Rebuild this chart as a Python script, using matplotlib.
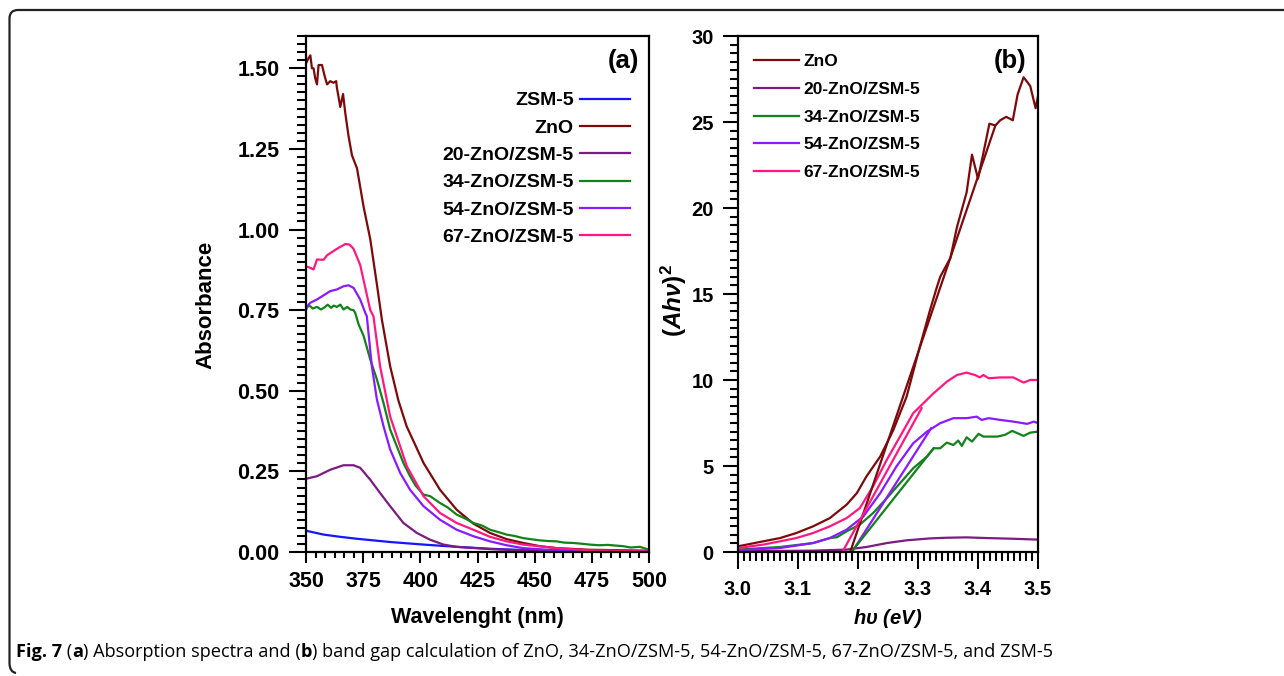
import numpy as np
import matplotlib
matplotlib.use("Agg")
import matplotlib.pyplot as plt
from matplotlib.ticker import MultipleLocator, AutoMinorLocator, FormatStrFormatter
from matplotlib.path import Path
from matplotlib.patches import PathPatch

plt.rcParams['font.family'] = ['Liberation Sans', 'DejaVu Sans']
plt.rcParams['font.weight'] = 'bold'
plt.rcParams['mathtext.fontset'] = 'custom'
plt.rcParams['mathtext.it'] = 'Liberation Sans:italic:bold'
plt.rcParams['mathtext.rm'] = 'Liberation Sans:bold'

# colours per sample
c_zsm = '#1515ff'
c_zno = '#7d0a0a'
c_20 = '#7d1a84'
c_34 = '#12821a'
c_54 = '#8a1aff'
c_67 = '#ff1880'

# ---- panel (a): absorbance vs wavelength ----
wl_zsm = [350, 357.7, 365, 372.3, 386.8, 401.4, 415.9, 430.5, 445, 474.1, 500]
ab_zsm = [0.066, 0.054, 0.047, 0.041, 0.031, 0.023, 0.016, 0.010, 0.006, 0.003, 0.002]

wl_zno = [350, 351.0, 351.9, 352.6, 353.3, 354.0, 354.8, 355.5, 357.0, 358.0, 359.2, 360.6,
          362.0, 363.2, 363.5, 365.0, 366.2, 367.2, 368.6, 370.1, 372.3, 375.2, 378.1,
          381.0, 383.2, 386.8, 390.4, 394.0, 401.4, 408.6, 415.9, 423.2, 430.5, 437.7,
          445.0, 452.3, 459.6, 474.0, 500]
ab_zno = [1.515, 1.53, 1.54, 1.50, 1.50, 1.47, 1.45, 1.51, 1.51, 1.48, 1.45, 1.46,
          1.455, 1.46, 1.44, 1.38, 1.42, 1.36, 1.29, 1.23, 1.19, 1.07, 0.97,
          0.83, 0.72, 0.576, 0.47, 0.39, 0.276, 0.193, 0.131, 0.088, 0.059, 0.040,
          0.028, 0.018, 0.012, 0.007, 0.004]

wl_20 = [350, 354.8, 360.6, 366.4, 370.8, 373.7, 378.1, 382.4, 386.8, 392.6, 398.5,
         404.3, 410.1, 415.9, 430.5, 445.0, 500]
ab_20 = [0.227, 0.235, 0.255, 0.269, 0.269, 0.261, 0.224, 0.183, 0.142, 0.09, 0.059,
         0.038, 0.023, 0.016, 0.009, 0.005, 0.002]

wl_34 = [350, 351.5, 353.0, 354.8, 356.5, 358.0, 359.5, 361.0, 362.1, 363.5, 365.0,
         366.4, 368.0, 369.4, 370.8, 371.5, 373.0, 375.2, 378.1, 381.0, 383.9, 386.8,
         389.7, 392.6, 395.5, 398.0, 401.4, 404.3, 408.6, 412.0, 415.9, 419.0, 423.2,
         427.0, 430.5, 434.0, 437.7, 441.0, 445.0, 448.0, 452.3, 456.0, 459.6, 463.0,
         466.8, 470.0, 474.1, 478.0, 482.0, 488.7, 492.0, 496.0, 500]
ab_34 = [0.757, 0.764, 0.755, 0.760, 0.752, 0.758, 0.767, 0.757, 0.764, 0.760, 0.767,
         0.752, 0.760, 0.752, 0.750, 0.742, 0.706, 0.67, 0.597, 0.535, 0.462, 0.38,
         0.328, 0.276, 0.235, 0.205, 0.178, 0.173, 0.152, 0.138, 0.116, 0.106, 0.09,
         0.082, 0.069, 0.062, 0.054, 0.050, 0.043, 0.040, 0.036, 0.034, 0.033, 0.029,
         0.028, 0.026, 0.023, 0.021, 0.022, 0.018, 0.014, 0.016, 0.007]

wl_54 = [350, 350.5, 351.9, 354.8, 360.6, 363.5, 366.4, 368.6, 370.8, 373.7, 375.9,
         376.6, 378.8, 381.0, 383.9, 386.8, 391.2, 395.5, 401.4, 408.6, 415.9, 423.2,
         430.5, 437.7, 445.0, 459.6, 500]
ab_54 = [0.75, 0.762, 0.773, 0.783, 0.809, 0.814, 0.824, 0.827, 0.819, 0.783, 0.742,
         0.731, 0.576, 0.473, 0.39, 0.318, 0.245, 0.193, 0.142, 0.10, 0.069, 0.049,
         0.033, 0.021, 0.012, 0.005, 0.002]

wl_67 = [350, 351.9, 353.3, 354.8, 357.7, 359.2, 363.5, 367.2, 369.1, 370.8, 373.7,
         375.9, 378.1, 379.5, 382.4, 386.8, 394.1, 401.4, 408.6, 415.9, 423.2, 430.5,
         437.7, 445.0, 459.6, 474.1, 500]
ab_67 = [0.886, 0.881, 0.876, 0.907, 0.906, 0.92, 0.94, 0.955, 0.953, 0.94, 0.89,
         0.82, 0.75, 0.731, 0.576, 0.42, 0.266, 0.173, 0.121, 0.09, 0.069, 0.047,
         0.033, 0.023, 0.012, 0.005, 0.002]

# ---- panel (b): (A h nu)^2 vs photon energy ----
ev_zno = [3.0, 3.042, 3.07, 3.097, 3.125, 3.153, 3.181, 3.198, 3.214, 3.237, 3.259,
          3.281, 3.303, 3.32, 3.331, 3.337, 3.354, 3.365, 3.381, 3.39, 3.40, 3.409,
          3.419, 3.429, 3.437, 3.447, 3.458, 3.466, 3.476, 3.487, 3.496, 3.5]
ah_zno = [0.33, 0.62, 0.81, 1.1, 1.49, 1.97, 2.75, 3.42, 4.39, 5.55, 7.1,
          9.03, 11.93, 14.06, 15.35, 16.0, 17.1, 18.9, 20.9, 23.1, 21.7, 23.2,
          24.9, 24.8, 25.1, 25.3, 25.1, 26.6, 27.6, 27.1, 25.8, 26.5]

ev_20 = [3.0, 3.125, 3.181, 3.214, 3.248, 3.281, 3.32, 3.348, 3.381, 3.415, 3.459, 3.5]
ah_20 = [0.04, 0.08, 0.14, 0.29, 0.52, 0.68, 0.79, 0.83, 0.85, 0.81, 0.77, 0.72]

ev_34 = [3.0, 3.07, 3.125, 3.153, 3.165, 3.181, 3.203, 3.225, 3.248, 3.27, 3.292,
         3.315, 3.326, 3.337, 3.348, 3.359, 3.367, 3.373, 3.381, 3.39, 3.401, 3.409,
         3.432, 3.445, 3.457, 3.476, 3.487, 3.5]
ah_34 = [0.14, 0.29, 0.52, 0.81, 0.86, 1.2, 1.59, 2.26, 3.13, 4.0, 4.87,
         5.55, 6.03, 6.03, 6.36, 6.22, 6.48, 6.17, 6.67, 6.42, 6.87, 6.71,
         6.71, 6.81, 7.04, 6.75, 6.94, 7.0]

ev_54 = [3.0, 3.07, 3.125, 3.153, 3.181, 3.209, 3.237, 3.264, 3.292, 3.315, 3.337,
         3.359, 3.381, 3.398, 3.406, 3.418, 3.437, 3.459, 3.482, 3.493, 3.5]
ah_54 = [0.1, 0.23, 0.52, 0.81, 1.3, 2.07, 3.42, 4.97, 6.32, 7.0, 7.49,
         7.78, 7.78, 7.87, 7.68, 7.78, 7.68, 7.58, 7.45, 7.58, 7.49]

ev_67 = [3.0, 3.042, 3.07, 3.097, 3.125, 3.153, 3.181, 3.203, 3.225, 3.248, 3.27,
         3.292, 3.309, 3.326, 3.348, 3.365, 3.381, 3.395, 3.403, 3.409, 3.418, 3.437,
         3.459, 3.476, 3.487, 3.5]
ah_67 = [0.23, 0.43, 0.62, 0.81, 1.1, 1.49, 1.97, 2.55, 3.81, 5.36, 6.71,
         8.07, 8.65, 9.23, 9.9, 10.29, 10.43, 10.29, 10.15, 10.29, 10.1, 10.15,
         10.15, 9.85, 10.0, 10.0]

# linear extrapolation segments (band gap fits)
fit_zno_x = [3.187, 3.429]
fit_zno_y = [0.0, 24.8]
fit_67_x = [3.174, 3.306]
fit_67_y = [0.0, 8.36]
fit_54_x = [3.19, 3.322]
fit_54_y = [0.0, 7.2]
fit_34_x = [3.189, 3.326]
fit_34_y = [0.0, 6.03]

labels_a = ['ZSM-5', 'ZnO', '20-ZnO/ZSM-5', '34-ZnO/ZSM-5', '54-ZnO/ZSM-5', '67-ZnO/ZSM-5']
labels_b = ['ZnO', '20-ZnO/ZSM-5', '34-ZnO/ZSM-5', '54-ZnO/ZSM-5', '67-ZnO/ZSM-5']

fig = plt.figure(figsize=(12.84, 6.76), dpi=100)
W, H = 1284.0, 676.0

def style_axis(ax, size):
    for s in ax.spines.values():
        s.set_linewidth(1.6)
    ax.tick_params(which='both', direction='out', width=1.5, labelsize=size)
    for lab in ax.get_xticklabels() + ax.get_yticklabels():
        lab.set_fontweight('bold')

lw = 1.6

# panel a
ax1 = fig.add_axes([306 / W, 1 - 552 / H, 343 / W, 516 / H])
ax1.plot(wl_zsm, ab_zsm, color=c_zsm, lw=lw, label=labels_a[0])
ax1.plot(wl_zno, ab_zno, color=c_zno, lw=lw, label=labels_a[1])
ax1.plot(wl_20, ab_20, color=c_20, lw=lw, label=labels_a[2])
ax1.plot(wl_34, ab_34, color=c_34, lw=lw, label=labels_a[3])
ax1.plot(wl_54, ab_54, color=c_54, lw=lw, label=labels_a[4])
ax1.plot(wl_67, ab_67, color=c_67, lw=lw, label=labels_a[5])
ax1.set_xlim(350, 500)
ax1.set_ylim(0, 1.6)
ax1.xaxis.set_major_locator(MultipleLocator(25))
ax1.xaxis.set_minor_locator(AutoMinorLocator(6))
ax1.yaxis.set_major_locator(MultipleLocator(0.25))
ax1.yaxis.set_minor_locator(AutoMinorLocator(10))
ax1.yaxis.set_major_formatter(FormatStrFormatter('%.2f'))
style_axis(ax1, 15.5)
ax1.tick_params(axis='y', which='major', length=12, pad=7)
ax1.tick_params(axis='y', which='minor', length=6.5)
ax1.tick_params(axis='x', which='major', length=8, pad=6)
ax1.tick_params(axis='x', which='minor', length=4.5)
ax1.set_xlabel('Wavelenght (nm)', fontsize=15.5, fontweight='bold')
ax1.xaxis.set_label_coords(0.5, -(628 - 552) / 516.0)
ax1.xaxis.label.set_va('bottom')
ax1.set_ylabel('Absorbance', fontsize=16, fontweight='bold')
ax1.yaxis.set_label_coords(-(306 - 216) / 343.0, (552 - 305) / 516.0)
ax1.text(0.97, 0.975, '(a)', transform=ax1.transAxes, ha='right', va='top',
         fontsize=18.5, fontweight='bold')
leg1 = ax1.legend(loc='upper right', bbox_to_anchor=(0.968, 0.907), frameon=False,
                  markerfirst=False, fontsize=14, handlelength=2.6,
                  labelspacing=0.5, handletextpad=0.3, borderaxespad=0)
for t in leg1.get_texts():
    t.set_fontweight('bold')
    t.set_horizontalalignment('right')

# panel b
ax2 = fig.add_axes([738 / W, 1 - 552 / H, 300 / W, 516 / H])
ax2.plot(ev_zno, ah_zno, color=c_zno, lw=lw, label=labels_b[0])
ax2.plot(ev_20, ah_20, color=c_20, lw=lw, label=labels_b[1])
ax2.plot(ev_34, ah_34, color=c_34, lw=lw, label=labels_b[2])
ax2.plot(ev_54, ah_54, color=c_54, lw=lw, label=labels_b[3])
ax2.plot(ev_67, ah_67, color=c_67, lw=lw, label=labels_b[4])
ax2.plot(fit_zno_x, fit_zno_y, color=c_zno, lw=lw)
ax2.plot(fit_67_x, fit_67_y, color=c_67, lw=lw)
ax2.plot(fit_54_x, fit_54_y, color=c_54, lw=lw)
ax2.plot(fit_34_x, fit_34_y, color=c_34, lw=lw)
ax2.set_xlim(3.0, 3.5)
ax2.set_ylim(0, 30)
ax2.xaxis.set_major_locator(MultipleLocator(0.1))
ax2.xaxis.set_minor_locator(AutoMinorLocator(10))
ax2.yaxis.set_major_locator(MultipleLocator(5))
ax2.yaxis.set_minor_locator(AutoMinorLocator(10))
ax2.xaxis.set_major_formatter(FormatStrFormatter('%.1f'))
style_axis(ax2, 14.5)
ax2.tick_params(axis='y', which='major', length=11, pad=6.5)
ax2.tick_params(axis='y', which='minor', length=6)
ax2.tick_params(axis='x', which='major', length=12, pad=8)
ax2.tick_params(axis='x', which='minor', length=6.5)
ax2.set_xlabel(r'$h\upsilon$ (eV)', fontsize=14.5, fontweight='bold', style='italic')
ax2.xaxis.set_label_coords(0.5, -(630 - 552) / 516.0)
ax2.xaxis.label.set_va('bottom')
ax2.set_ylabel(r'$(Ah\nu)^2$', fontsize=17.5)
ax2.yaxis.set_label_coords(-(738 - 689) / 300.0, (552 - 301) / 516.0)
ax2.text(0.96, 0.975, '(b)', transform=ax2.transAxes, ha='right', va='top',
         fontsize=18.5, fontweight='bold')
leg2 = ax2.legend(loc='upper left', bbox_to_anchor=(0.03, 0.978), frameon=False,
                  fontsize=12.5, handlelength=2.6, labelspacing=0.72,
                  handletextpad=0.25, borderaxespad=0)
for t in leg2.get_texts():
    t.set_fontweight('bold')

# outer frame: top and left edges with rounded corners
frame_verts = [(1284, 10), (18, 10), (9.5, 10), (9.5, 18.5), (9.5, 663),
               (9.5, 672), (16, 673)]
frame_codes = [Path.MOVETO, Path.LINETO, Path.CURVE3, Path.CURVE3, Path.LINETO,
               Path.CURVE3, Path.CURVE3]
frame_path = Path([(x / W, 1 - y / H) for x, y in frame_verts], frame_codes)
fig.patches.append(PathPatch(frame_path, transform=fig.transFigure, fill=False,
                             lw=1.6, ec='#222222', clip_on=False))

# caption, built from bold and normal pieces
cap_parts = [('Fig. 7', 'bold'), (' (', 'normal'), ('a', 'bold'),
             (') Absorption spectra and (', 'normal'), ('b', 'bold'),
             (') band gap calculation of ZnO, 34-ZnO/ZSM-5, 54-ZnO/ZSM-5, '
              '67-ZnO/ZSM-5, and ZSM-5', 'normal')]
renderer = fig.canvas.get_renderer()
x = 16 / W
for txt, wt in cap_parts:
    t = fig.text(x, 1 - 657 / H, txt, fontsize=13.1, fontweight=wt,
                 family=['Open Sans', 'DejaVu Sans'], va='baseline', ha='left')
    bb = t.get_window_extent(renderer=renderer)
    x += bb.width / W

fig.savefig('out.png', dpi=100)
